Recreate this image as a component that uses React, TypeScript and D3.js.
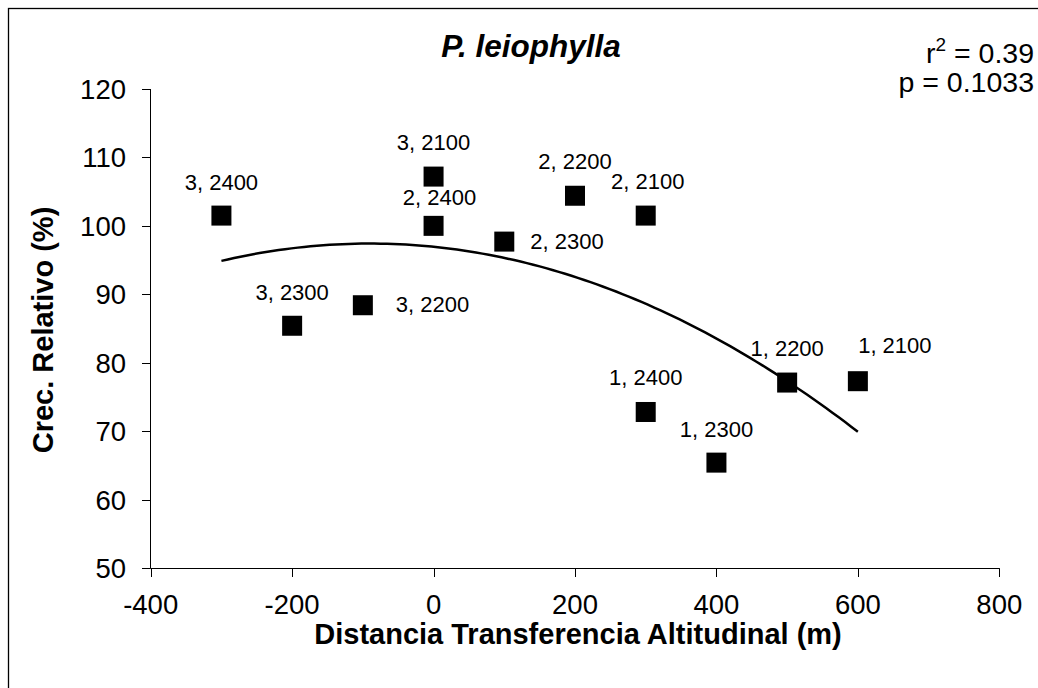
import React from "react";
import * as d3 from "d3";

// ---- Data ----
const distances = [-300, -200, -100, 0, 0, 100, 200, 300, 300, 400, 500, 600];
const growth = [101.5, 85.4, 88.4, 107.2, 100.0, 97.7, 104.4, 101.5, 72.8, 65.4, 77.1, 77.3];
const pointLabels = [
  "3, 2400", "3, 2300", "3, 2200", "3, 2100", "2, 2400", "2, 2300",
  "2, 2200", "2, 2100", "1, 2400", "1, 2300", "1, 2200", "1, 2100",
];
const xTicks = [-400, -200, 0, 200, 400, 600, 800];
const yTicks = [50, 60, 70, 80, 90, 100, 110, 120];
const chartTitle = "P. leiophylla";
const xTitle = "Distancia Transferencia Altitudinal (m)";
const yTitle = "Crec. Relativo (%)";
const r2Text = "0.39";
const pText = "p = 0.1033";

// label layout (offset from point centre, anchor)
const labelLayout: [number, number, string][] = [
  [0, -26, "middle"],
  [0, -26, "middle"],
  [33, 7, "start"],
  [0, -27, "middle"],
  [6, -21, "middle"],
  [26, 7, "start"],
  [0, -27, "middle"],
  [2, -27, "middle"],
  [0, -27, "middle"],
  [0, -26, "middle"],
  [0, -27, "middle"],
  [37, -28, "middle"],
];

const FONT = "'Liberation Sans', Arial, Helvetica, sans-serif";

// quadratic least-squares fit
function quadFit(xs: number[], ys: number[]) {
  const n = xs.length;
  let s = [0, 0, 0, 0, 0];
  let t = [0, 0, 0];
  for (let i = 0; i < n; i++) {
    const x = xs[i];
    const y = ys[i];
    for (let k = 0; k < 5; k++) s[k] += Math.pow(x, k);
    for (let k = 0; k < 3; k++) t[k] += Math.pow(x, k) * y;
  }
  const A = [
    [s[0], s[1], s[2], t[0]],
    [s[1], s[2], s[3], t[1]],
    [s[2], s[3], s[4], t[2]],
  ];
  for (let c = 0; c < 3; c++) {
    let p = c;
    for (let r = c + 1; r < 3; r++) if (Math.abs(A[r][c]) > Math.abs(A[p][c])) p = r;
    [A[c], A[p]] = [A[p], A[c]];
    for (let r = 0; r < 3; r++) {
      if (r === c) continue;
      const f = A[r][c] / A[c][c];
      for (let k = c; k < 4; k++) A[r][k] -= f * A[c][k];
    }
  }
  return [A[0][3] / A[0][0], A[1][3] / A[1][1], A[2][3] / A[2][2]];
}

export default function App() {
  const x = d3.scaleLinear().domain([-400, 800]).range([150.7, 999.3]);
  const y = d3.scaleLinear().domain([50, 120]).range([568, 89]);

  const [c0, c1, c2] = quadFit(distances, growth);
  const xmin = d3.min(distances) as number;
  const xmax = d3.max(distances) as number;
  const curvePts: [number, number][] = d3
    .range(0, 101)
    .map((i) => {
      const xv = xmin + ((xmax - xmin) * i) / 100;
      return [xv, c0 + c1 * xv + c2 * xv * xv];
    });
  const line = d3
    .line<[number, number]>()
    .x((d) => x(d[0]))
    .y((d) => y(d[1]))
    .curve(d3.curveLinear);

  const x0 = 150.5;
  const yBase = 568.5;
  const sq = 20;

  return (
    <svg
      width={1038}
      height={688}
      style={{ position: "absolute", left: 0, top: 0, background: "#fff" }}
      fontFamily={FONT}
    >
      <rect x={0} y={0} width={1038} height={688} fill="#fff" />
      <rect x={8.5} y={8.5} width={1100} height={800} fill="none" stroke="#000" strokeWidth={1.3} />

      {/* title */}
      <text x={531} y={57} textAnchor="middle" fontSize={31.5} fontWeight="bold" fontStyle="italic">
        {chartTitle}
      </text>

      {/* stats */}
      <text x={1034} y={63} textAnchor="end" fontSize={28.5}>
        r<tspan dy={-12} fontSize={19}>2</tspan>
        <tspan dy={12}>{" = " + r2Text}</tspan>
      </text>
      <text x={1034} y={92} textAnchor="end" fontSize={28.5}>
        {pText}
      </text>

      {/* axes */}
      <line x1={x0} x2={x0} y1={y(120)} y2={yBase} stroke="#000" strokeWidth={1} />
      <line x1={x0} x2={x(800) + 0.5} y1={yBase} y2={yBase} stroke="#000" strokeWidth={1} />
      {yTicks.map((t) => (
        <g key={"y" + t}>
          <line x1={142} x2={x0} y1={Math.round(y(t)) + 0.5} y2={Math.round(y(t)) + 0.5} stroke="#000" />
          <text x={126} y={y(t) + 10} textAnchor="end" fontSize={27.5}>
            {t}
          </text>
        </g>
      ))}
      {xTicks.map((t) => (
        <g key={"x" + t}>
          <line
            x1={Math.round(x(t)) + 0.5}
            x2={Math.round(x(t)) + 0.5}
            y1={yBase}
            y2={577}
            stroke="#000"
          />
          <text x={x(t)} y={614} textAnchor="middle" fontSize={27.5}>
            {t}
          </text>
        </g>
      ))}

      {/* axis titles */}
      <text x={578} y={644} textAnchor="middle" fontSize={29} fontWeight="bold">
        {xTitle}
      </text>
      <text
        transform={`translate(53,330) rotate(-90)`}
        textAnchor="middle"
        fontSize={29}
        fontWeight="bold"
      >
        {yTitle}
      </text>

      {/* trend curve */}
      <path d={line(curvePts) || ""} fill="none" stroke="#000" strokeWidth={2.5} />

      {/* points */}
      {distances.map((d, i) => (
        <rect
          key={"p" + i}
          x={x(d) - sq / 2}
          y={y(growth[i]) - sq / 2}
          width={sq}
          height={sq}
          fill="#000"
        />
      ))}

      {/* labels */}
      {distances.map((d, i) => (
        <text
          key={"l" + i}
          x={x(d) + labelLayout[i][0]}
          y={y(growth[i]) + labelLayout[i][1]}
          textAnchor={labelLayout[i][2] as any}
          fontSize={22}
        >
          {pointLabels[i]}
        </text>
      ))}
    </svg>
  );
}
